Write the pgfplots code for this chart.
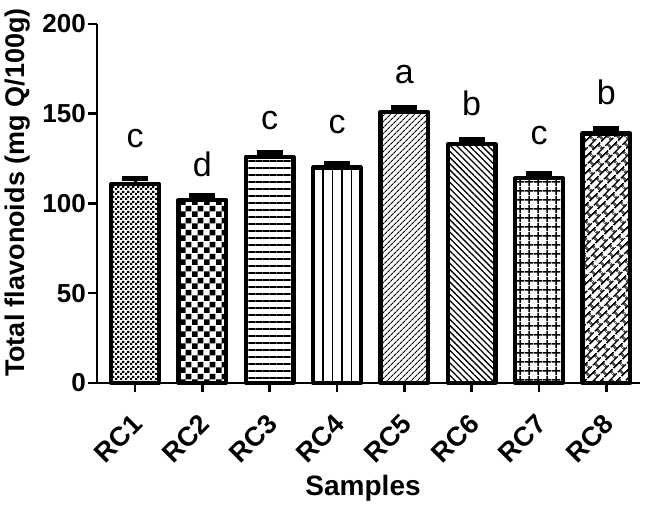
\documentclass[border=0pt]{standalone}
\usepackage{pgfplots}
\pgfplotsset{compat=1.18}
\usepackage{fontspec}
\setmainfont{Liberation Sans}
\usetikzlibrary{patterns.meta}

\tikzdeclarepattern{name=checkfine, type=uncolored,
  bottom left={(0pt,0pt)}, top right={(5pt,5pt)}, tile size={(5pt,5pt)},
  code={\fill (0pt,0pt) rectangle (2.5pt,2.5pt); \fill (2.5pt,2.5pt) rectangle (5pt,5pt);}}
\tikzdeclarepattern{name=checkcoarse, type=uncolored,
  bottom left={(0pt,0pt)}, top right={(12pt,12pt)}, tile size={(12pt,12pt)},
  code={\fill (0pt,0pt) rectangle (6pt,6pt); \fill (6pt,6pt) rectangle (12pt,12pt);}}
\tikzdeclarepattern{name=mygrid, type=uncolored,
  bottom left={(0pt,0pt)}, top right={(8.6pt,8.6pt)}, tile size={(8.6pt,8.6pt)},
  code={\draw[line width=1.5pt] (0pt,4.3pt) -- (8.6pt,4.3pt); \draw[line width=1.5pt] (4.3pt,0pt) -- (4.3pt,8.6pt);}}
\tikzdeclarepattern{name=mybricks, type=uncolored,
  bottom left={(0pt,0pt)}, top right={(12pt,11pt)}, tile size={(12pt,11pt)},
  tile transformation={rotate=45},
  code={\draw[line width=1.6pt] (0pt,2.75pt) -- (12pt,2.75pt);
        \draw[line width=1.6pt] (0pt,8.25pt) -- (12pt,8.25pt);
        \draw[line width=1.6pt] (3pt,2.75pt) -- (3pt,8.25pt);
        \draw[line width=1.6pt] (9pt,8.25pt) -- (9pt,11pt);
        \draw[line width=1.6pt] (9pt,0pt) -- (9pt,2.75pt);}}

\pgfplotsset{
  mybar/.style={ybar, bar width=0.71, bar shift=0pt, draw=black, line width=4.2pt,
    line join=round, pattern color=black,
    error bars/y dir=plus, error bars/y explicit,
    error bars/error mark=|,
    error bars/error bar style={line width=3pt, black},
    error bars/error mark options={line width=5pt, mark size=13pt, black}},
}

\begin{document}
\begin{tikzpicture}
\path (-97pt,-121pt) rectangle (551pt,383pt);
\begin{axis}[
  name=ax,
  scale only axis,
  width=543pt, height=359pt,
  xmin=0.435, xmax=8.5,
  ymin=0, ymax=200,
  axis x line=bottom, axis y line=left,
  axis line style={-, line width=2.5pt, black},
  tick align=outside,
  major tick length=9pt,
  tick style={line width=2.5pt, black},
  xtick={1,2,3,4,5,6,7,8},
  xticklabels={RC1,RC2,RC3,RC4,RC5,RC6,RC7,RC8},
  ytick={0,50,100,150,200},
  /pgf/number format/assume math mode=true,
  xticklabel shift=15pt,
  x tick label style={rotate=45, anchor=north east, font=\bfseries\fontsize{27}{27}\selectfont, inner sep=1pt, xshift=-6pt},
  y tick label style={font=\bfseries\fontsize{26}{26}\selectfont, inner sep=2pt},
  xlabel={Samples},
  ylabel={Total flavonoids (mg Q/100g)},
  xlabel style={font=\bfseries\fontsize{28}{28}\selectfont, at={(axis description cs:0.49,0)}, anchor=base, yshift=-112pt},
  ylabel style={font=\bfseries\fontsize{27}{27}\selectfont, at={(axis description cs:-0.1455,0.53)}, anchor=center},
  clip=false,
]
\addplot[mybar, pattern=checkfine] coordinates {(1,111) +- (0,2.7)};
\addplot[mybar, pattern=checkcoarse] coordinates {(2,102) +- (0,2.7)};
\addplot[mybar, pattern={Lines[angle=0,distance=7pt,line width=1.5pt]}] coordinates {(3,126) +- (0,2.5)};
\addplot[mybar, pattern={Lines[angle=90,distance=9.5pt,line width=1.5pt]}] coordinates {(4,120) +- (0,2.5)};
\addplot[mybar, pattern={Lines[angle=45,distance=4pt,line width=1.2pt]}] coordinates {(5,151) +- (0,2.7)};
\addplot[mybar, pattern={Lines[angle=-45,distance=4.4pt,line width=1.3pt]}] coordinates {(6,133) +- (0,2.5)};
\addplot[mybar, pattern=mygrid] coordinates {(7,114) +- (0,2.5)};
\addplot[mybar, pattern=mybricks] coordinates {(8,139) +- (0,2.7)};
\addplot[draw=none, mark=none, nodes near coords, point meta=explicit symbolic,
  every node near coord/.append style={font=\fontsize{34}{34}\selectfont, anchor=base, inner sep=0pt}]
  table[meta=lab, row sep=\\] {
  x y lab \\
  1 131 c \\
  2 115 d \\
  3 141 c \\
  4 139 c \\
  5 167 a \\
  6 149 b \\
  7 133 c \\
  8 155 b \\
};
\end{axis}
\end{tikzpicture}
\end{document}
